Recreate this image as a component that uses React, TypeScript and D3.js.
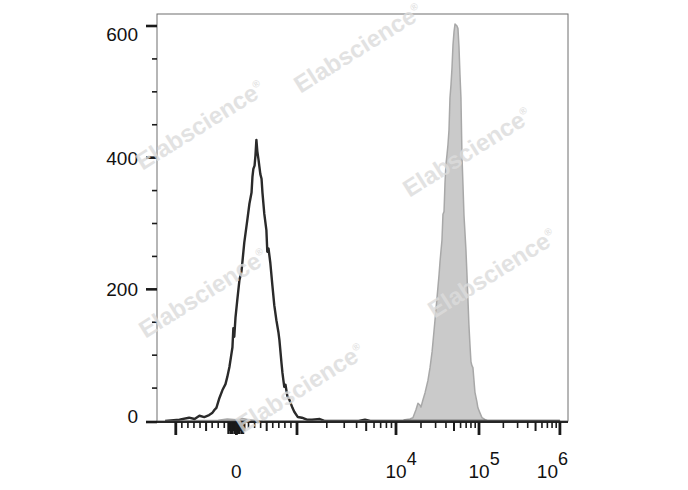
import * as d3 from 'd3';

// histogram of the isotype control (black outline): [channel value, count]
const isotype: [number, number][] = [
  [-1500, 0], [-940, 2], [-780, 5], [-690, 3], [-610, 8], [-530, 6], [-450, 9], [-400, 12],
  [-360, 17], [-330, 20], [-280, 35], [-230, 47], [-180, 56], [-150, 67], [-115, 82], [-85, 100],
  [-65, 112], [-50, 141], [-35, 128], [-15, 157], [15, 184], [50, 214], [85, 228], [130, 271],
  [180, 305], [215, 330], [250, 347], [265, 371], [280, 383], [300, 388], [315, 404], [330, 427],
  [345, 410], [365, 397], [380, 386], [395, 375], [415, 368], [430, 347], [445, 331], [460, 315],
  [495, 290], [510, 257], [530, 262], [560, 240], [595, 205], [625, 176], [660, 153], [695, 134],
  [710, 123], [745, 87], [760, 73], [775, 62], [790, 52], [810, 55], [840, 38], [875, 32],
  [925, 20], [955, 14], [1020, 6], [1120, 5], [1260, 2], [1420, 2], [1700, 3], [1920, 0],
  [4200, 0], [4860, 2], [5500, 0], [1000000, 0],
];

// histogram of the stained sample (grey filled)
const stained: [number, number][] = [
  [-1300, 0], [-300, 1], [-150, 3], [0, 2], [100, 4], [200, 2], [400, 0], [12000, 0],
  [12800, 2], [14700, 3], [16000, 5], [17400, 17], [18400, 27], [19500, 24], [20000, 21], [21100, 32],
  [22400, 43], [24300, 62], [25700, 81], [27200, 105], [27900, 120], [29500, 153], [31200, 187], [33000, 222],
  [33900, 242], [35800, 275], [36800, 314], [37900, 318], [38900, 360], [40000, 390], [41200, 405], [42300, 420],
  [43500, 442], [44700, 491], [46000, 511], [47300, 537], [48600, 571], [50000, 591], [51400, 603], [54300, 600],
  [55800, 596], [57400, 568], [59000, 526], [60600, 491], [62300, 404], [64100, 359], [65900, 313], [69600, 260],
  [71600, 223], [73600, 184], [75600, 146], [77800, 116], [80000, 90], [82200, 84], [84500, 81], [86900, 62],
  [89300, 44], [94400, 29], [97000, 20], [103000, 12], [109000, 5], [119000, 2], [129000, 0], [1000000, 0],
];

const yTicks = [0, 200, 400, 600];
const yMinor = [50, 100, 150, 250, 300, 350, 450, 500, 550];
const xMajor = [-1000, 0, 1000, 10000, 100000, 1000000];
const xNearZero = [-130, -110, -90, -70, -50, -30, -10, 10, 30, 50, 70, 90, 110, 130];
const xMinor = [
  -900, -800, -700, -600, -400, -300, -200, 200, 300, 400, 600, 700, 800, 900,
  2000, 3000, 4000, 6000, 7000, 8000, 9000,
  20000, 30000, 40000, 60000, 70000, 80000, 90000,
  200000, 300000, 400000, 600000, 700000, 800000, 900000,
];
const xMid = [-500, 500, 5000, 50000, 500000];
const xLabels: { v: number; base: string; exp?: string }[] = [
  { v: 0, base: '0' },
  { v: 10000, base: '10', exp: '4' },
  { v: 100000, base: '10', exp: '5' },
  { v: 1000000, base: '10', exp: '6' },
];
const watermarks = [
  [358, 48], [200, 125], [467, 152], [492, 273], [203, 293], [300, 388],
];

const W = 688, H = 490;
const L = 157, R = 568, T = 14, B = 421;
const FONT = 'Arial, "Liberation Sans", sans-serif';

// biexponential display: linear within +-1000, log decades outside
const biex = (v: number) => Math.abs(v) <= 1000 ? v / 1000 : Math.sign(v) * (1 + Math.log10(Math.abs(v) / 1000));
const xs = d3.scaleLinear().domain([-1.31, 1, 2, 3, 4.1]).range([L, L + 140, L + 239, L + 322, R]);
const x = (v: number) => xs(biex(v));
const y = d3.scaleLinear().domain([0, 600]).range([B, 26]);

export default function App() {
  const area = d3.area<[number, number]>().x(d => x(d[0])).y0(B).y1(d => y(d[1]));
  const line = d3.line<[number, number]>().x(d => x(d[0])).y(d => y(d[1]));

  const tick = (v: number, len: number, w: number, key: string) => (
    <line key={key} x1={x(v)} x2={x(v)} y1={B + 1} y2={B + 1 + len} stroke="#1a1a1a" strokeWidth={w} />
  );

  return (
    <svg width={W} height={H} style={{ position: 'absolute', left: 0, top: 0, background: '#fff' }} fontFamily={FONT}>
      <defs>
        <clipPath id="plot"><rect x={L} y={T} width={R - L} height={B - T + 1} /></clipPath>
      </defs>

      <g clipPath="url(#plot)">
        <path d={area(stained) ?? ''} fill="#cacaca" stroke="#a8a8a8" strokeWidth={1.5} strokeLinejoin="round" />
        <path d={line(isotype) ?? ''} fill="none" stroke="#2a2a2a" strokeWidth={2.4} strokeLinejoin="round" />
      </g>

      {/* frame */}
      <rect x={L} y={T} width={R - L} height={B - T} fill="none" stroke="#6e6e6e" strokeWidth={1} />
      <line x1={L} x2={R} y1={B + 1} y2={B + 1} stroke="#262626" strokeWidth={2} />

      {/* y axis */}
      {yMinor.map(t => (
        <line key={'ym' + t} x1={L - 5} x2={L} y1={y(t)} y2={y(t)} stroke="#1a1a1a" strokeWidth={1.6} />
      ))}
      {yTicks.map(t => (
        <g key={'y' + t}>
          <line x1={L - 11} x2={L} y1={y(t) + (t === 0 ? 1 : 0)} y2={y(t) + (t === 0 ? 1 : 0)} stroke="#1a1a1a" strokeWidth={2.6} />
          <text x={138} y={Math.min(Math.max(y(t), T + 20), B - 5)} dy="0.36em" textAnchor="end" fontSize={19} fill="#111">{t}</text>
        </g>
      ))}

      {/* x axis */}
      {xMinor.map(v => tick(v, 6, 1.6, 'xm' + v))}
      {xMid.map(v => tick(v, 9, 2, 'xd' + v))}
      {xNearZero.map((v, i) => tick(v, i % 3 === 1 ? 9 : 12, 2.4, 'xz' + v))}
      {xMajor.map(v => tick(v, 13, 2.8, 'xM' + v))}
      {xLabels.map(l => {
        const px = x(l.v);
        if (!l.exp) return <text key={l.v} x={px} y={478} textAnchor="middle" fontSize={19} fill="#111">{l.base}</text>;
        const end = px - 10 + 31 > R;
        return (
          <text key={l.v} x={end ? R : px - 10.5} y={478} textAnchor={end ? 'end' : 'start'} fontSize={19} fill="#111">
            {l.base}<tspan dy={-13} fontSize={18}>{l.exp}</tspan>
          </text>
        );
      })}

      {/* watermark */}
      {watermarks.map(([cx, cy], i) => (
        <text key={'w' + i} transform={`translate(${cx},${cy}) rotate(-32)`} textAnchor="middle" dy="0.35em"
          fontSize={24} fontWeight="bold" fill="#dcdcdc" opacity={0.8}>
          Elabscience<tspan dy={-10} fontSize={10}>®</tspan>
        </text>
      ))}
    </svg>
  );
}
